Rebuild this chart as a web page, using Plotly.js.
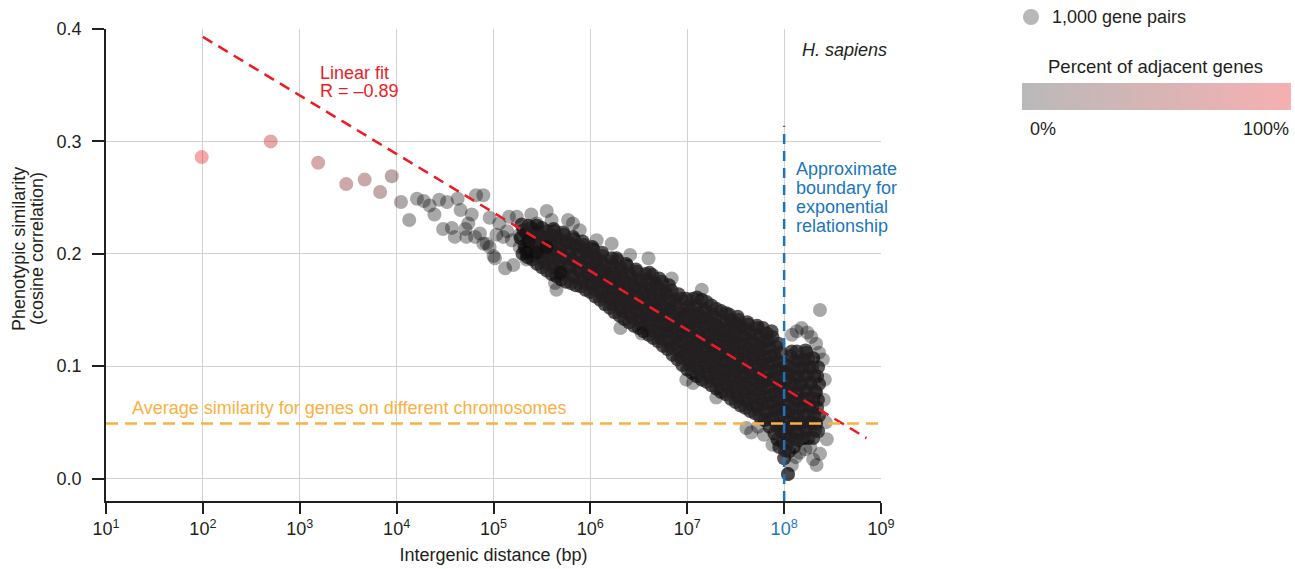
<!DOCTYPE html>
<html><head><meta charset="utf-8">
<script src="https://cdn.plot.ly/plotly-3.0.1.min.js"></script>
<style>html,body{margin:0;padding:0;background:#fff}#chart{width:1295px;height:569px}</style>
</head><body><div id="chart"></div>
<script>
// ---------- DATA (log10 of intergenic distance in bp, similarity) ----------
// bins with a high share of adjacent genes (coloured by percent adjacent)
const adjLogDist = [1.988, 2.70, 3.19, 3.48, 3.67, 3.83, 3.95, 4.045];
const adjSim     = [0.286, 0.300, 0.281, 0.262, 0.266, 0.255, 0.269, 0.246];
const adjPercent = [100, 85, 60, 50, 45, 35, 25, 10];

// sparse / outlying bins (1,000 gene pairs each)
const sparseLogDist = [
  4.13,4.21,4.28,4.34,4.39,4.44,4.52,4.48,4.57,4.60,4.63,4.66,4.71,4.74,4.72,4.775,4.82,4.895,4.81,4.86,
  4.895,4.93,4.96,4.96,5.00,5.015,5.03,5.06,5.10,5.12,5.14,5.16,5.19,5.205,5.24,5.27,5.27,5.34,5.34,5.36,
  5.39,5.445,5.445,5.55,5.55,5.60,5.635,5.65,5.69,5.77,5.82,5.89,6.065,6.22,6.31,6.41,6.53,6.60,6.84,6.99,
  7.06,7.15,7.30,7.61,7.66,7.73,7.79,7.88,8.04,8.04,8.04,8.08,8.13,8.18,8.24,8.28,8.33,8.37,8.36,8.40,
  8.42,8.41,8.43,8.44,8.30,8.335,8.37,8.16,8.22,8.27,8.12,8.08
];
const sparseSim = [
  0.230,0.249,0.247,0.243,0.235,0.248,0.246,0.222,0.223,0.215,0.249,0.239,0.222,0.227,0.215,0.235,0.252,0.252,0.215,0.218,
  0.209,0.209,0.232,0.206,0.198,0.196,0.217,0.227,0.215,0.187,0.220,0.233,0.212,0.190,0.233,0.206,0.217,0.195,0.201,0.211,
  0.235,0.227,0.201,0.238,0.206,0.230,0.174,0.168,0.183,0.230,0.227,0.221,0.212,0.209,0.134,0.199,0.129,0.196,0.178,0.088,
  0.085,0.168,0.072,0.045,0.041,0.046,0.039,0.030,0.004,0.004,0.004,0.128,0.131,0.134,0.130,0.126,0.120,0.150,0.112,0.106,
  0.088,0.070,0.050,0.035,0.017,0.012,0.022,0.023,0.026,0.028,0.019,0.012
];

// dense core of bins (one line per slice of distance)
const coreLogDist = [
  5.30,5.32,5.28,5.31,5.29,
  5.35,5.33,5.37,5.34,5.36,
  5.40,5.42,5.38,5.41,5.39,
  5.45,5.43,5.47,5.44,5.46,5.45,
  5.50,5.52,5.48,5.51,5.49,5.50,
  5.55,5.53,5.57,5.54,5.56,5.55,
  5.60,5.62,5.58,5.61,5.59,5.60,5.62,
  5.65,5.63,5.67,5.64,5.66,5.65,5.63,
  5.70,5.72,5.68,5.71,5.69,5.70,5.72,
  5.75,5.73,5.77,5.74,5.76,5.75,5.73,
  5.80,5.82,5.78,5.81,5.79,5.80,5.82,
  5.85,5.83,5.87,5.84,5.86,5.85,5.83,
  5.90,5.92,5.88,5.91,5.89,5.90,5.92,
  5.95,5.93,5.97,5.94,5.96,5.95,5.93,
  6.00,6.02,5.98,6.01,5.99,6.00,6.02,
  6.05,6.03,6.07,6.04,6.06,6.05,6.03,
  6.10,6.12,6.08,6.11,6.09,6.10,6.12,
  6.15,6.13,6.17,6.14,6.16,6.15,6.13,
  6.20,6.22,6.18,6.21,6.19,6.20,6.22,
  6.25,6.23,6.27,6.24,6.26,6.25,6.23,6.27,
  6.30,6.32,6.28,6.31,6.29,6.30,6.32,6.28,
  6.35,6.33,6.37,6.34,6.36,6.35,6.33,6.37,
  6.40,6.42,6.38,6.41,6.39,6.40,6.42,6.38,
  6.45,6.43,6.47,6.44,6.46,6.45,6.43,6.47,
  6.50,6.52,6.48,6.51,6.49,6.50,6.52,6.48,
  6.55,6.53,6.57,6.54,6.56,6.55,6.53,6.57,
  6.60,6.62,6.58,6.61,6.59,6.60,6.62,6.58,6.61,
  6.65,6.63,6.67,6.64,6.66,6.65,6.63,6.67,6.64,
  6.70,6.72,6.68,6.71,6.69,6.70,6.72,6.68,6.71,
  6.75,6.73,6.77,6.74,6.76,6.75,6.73,6.77,6.74,
  6.80,6.82,6.78,6.81,6.79,6.80,6.82,6.78,6.81,
  6.85,6.83,6.87,6.84,6.86,6.85,6.83,6.87,6.84,
  6.90,6.92,6.88,6.91,6.89,6.90,6.92,6.88,6.91,
  6.95,6.93,6.97,6.94,6.96,6.95,6.93,6.97,6.94,
  7.00,7.02,6.98,7.01,6.99,7.00,7.02,6.98,7.01,6.99,
  7.05,7.03,7.07,7.04,7.06,7.05,7.03,7.07,7.04,7.06,
  7.10,7.12,7.08,7.11,7.09,7.10,7.12,7.08,7.11,7.09,7.10,
  7.15,7.13,7.17,7.14,7.16,7.15,7.13,7.17,7.14,7.16,7.15,
  7.20,7.22,7.18,7.21,7.19,7.20,7.22,7.18,7.21,7.19,7.20,
  7.25,7.23,7.27,7.24,7.26,7.25,7.23,7.27,7.24,7.26,7.25,
  7.30,7.32,7.28,7.31,7.29,7.30,7.32,7.28,7.31,7.29,7.30,
  7.35,7.33,7.37,7.34,7.36,7.35,7.33,7.37,7.34,7.36,7.35,
  7.40,7.42,7.38,7.41,7.39,7.40,7.42,7.38,7.41,7.39,7.40,
  7.45,7.43,7.47,7.44,7.46,7.45,7.43,7.47,7.44,7.46,7.45,7.43,
  7.50,7.52,7.48,7.51,7.49,7.50,7.52,7.48,7.51,7.49,7.50,7.52,
  7.55,7.53,7.57,7.54,7.56,7.55,7.53,7.57,7.54,7.56,7.55,7.53,
  7.60,7.62,7.58,7.61,7.59,7.60,7.62,7.58,7.61,7.59,7.60,7.62,
  7.65,7.63,7.67,7.64,7.66,7.65,7.63,7.67,7.64,7.66,7.65,7.63,
  7.70,7.72,7.68,7.71,7.69,7.70,7.72,7.68,7.71,7.69,7.70,7.72,
  7.75,7.73,7.77,7.74,7.76,7.75,7.73,7.77,7.74,7.76,7.75,7.73,
  7.80,7.82,7.78,7.81,7.79,7.80,7.82,7.78,7.81,7.79,7.80,7.82,7.78,
  7.85,7.83,7.87,7.84,7.86,7.85,7.83,7.87,7.84,7.86,7.85,7.83,7.87,
  7.90,7.92,7.88,7.91,7.89,7.90,7.92,7.88,7.91,7.89,7.90,7.92,7.88,
  7.95,7.93,7.97,7.94,7.96,7.95,7.93,7.97,7.94,7.96,7.95,7.93,7.97,7.94,
  8.00,8.01,7.99,8.02,7.98,8.00,8.01,7.99,8.02,7.98,8.00,8.01,7.99,
  8.05,8.03,8.07,8.04,8.06,8.05,8.03,8.07,8.04,8.06,8.05,8.03,8.07,
  8.10,8.12,8.08,8.11,8.09,8.10,8.12,8.08,8.11,8.09,8.10,8.12,8.08,
  8.15,8.13,8.17,8.14,8.16,8.15,8.13,8.17,8.14,8.16,8.15,8.13,
  8.20,8.22,8.18,8.21,8.19,8.20,8.22,8.18,8.21,8.19,8.20,8.22,
  8.25,8.23,8.27,8.24,8.26,8.25,8.23,8.27,8.24,8.26,8.25,8.23,
  8.30,8.32,8.28,8.31,8.29,8.30,8.32,8.28,8.31,8.29,8.30,
  8.35,8.33,8.36,8.34,8.35,8.33,8.36,8.34,8.35
];
const coreSim = [
  0.200,0.207,0.214,0.221,0.226,
  0.197,0.204,0.211,0.218,0.225,
  0.195,0.202,0.209,0.216,0.223,
  0.191,0.198,0.205,0.212,0.219,0.225,
  0.188,0.195,0.202,0.209,0.216,0.223,
  0.185,0.192,0.199,0.206,0.213,0.220,
  0.182,0.189,0.196,0.203,0.210,0.217,0.222,
  0.180,0.187,0.194,0.201,0.208,0.215,0.220,
  0.177,0.184,0.191,0.198,0.205,0.212,0.219,
  0.175,0.182,0.189,0.196,0.203,0.210,0.217,
  0.174,0.181,0.188,0.195,0.202,0.209,0.215,
  0.172,0.179,0.186,0.193,0.200,0.207,0.213,
  0.171,0.178,0.185,0.192,0.199,0.206,0.211,
  0.168,0.175,0.182,0.189,0.196,0.203,0.208,
  0.166,0.173,0.180,0.187,0.194,0.201,0.206,
  0.162,0.169,0.176,0.183,0.190,0.197,0.204,
  0.159,0.166,0.173,0.180,0.187,0.194,0.201,
  0.155,0.162,0.169,0.176,0.183,0.190,0.198,
  0.152,0.159,0.166,0.173,0.180,0.187,0.196,
  0.148,0.155,0.162,0.169,0.176,0.183,0.190,0.196,
  0.145,0.152,0.159,0.166,0.173,0.180,0.187,0.194,
  0.142,0.149,0.156,0.163,0.170,0.177,0.184,0.191,
  0.139,0.146,0.153,0.160,0.167,0.174,0.181,0.189,
  0.136,0.143,0.150,0.157,0.164,0.171,0.178,0.186,
  0.134,0.141,0.148,0.155,0.162,0.169,0.176,0.184,
  0.131,0.138,0.145,0.152,0.159,0.166,0.173,0.182,
  0.128,0.135,0.142,0.149,0.156,0.163,0.170,0.177,0.183,
  0.125,0.132,0.139,0.146,0.153,0.160,0.167,0.174,0.181,
  0.122,0.129,0.136,0.143,0.150,0.157,0.164,0.171,0.178,
  0.118,0.125,0.132,0.139,0.146,0.153,0.160,0.167,0.175,
  0.115,0.122,0.129,0.136,0.143,0.150,0.157,0.164,0.172,
  0.110,0.117,0.124,0.131,0.138,0.145,0.152,0.159,0.167,
  0.106,0.113,0.120,0.127,0.134,0.141,0.148,0.155,0.164,
  0.101,0.108,0.115,0.122,0.129,0.136,0.143,0.150,0.160,
  0.097,0.104,0.111,0.118,0.125,0.132,0.139,0.146,0.153,0.160,
  0.094,0.101,0.108,0.115,0.122,0.129,0.136,0.143,0.150,0.160,
  0.091,0.098,0.105,0.112,0.119,0.126,0.133,0.140,0.147,0.154,0.161,
  0.088,0.095,0.102,0.109,0.116,0.123,0.130,0.137,0.144,0.151,0.159,
  0.086,0.093,0.100,0.107,0.114,0.121,0.128,0.135,0.142,0.149,0.157,
  0.083,0.090,0.097,0.104,0.111,0.118,0.125,0.132,0.139,0.146,0.154,
  0.080,0.087,0.094,0.101,0.108,0.115,0.122,0.129,0.136,0.143,0.151,
  0.077,0.084,0.091,0.098,0.105,0.112,0.119,0.126,0.133,0.140,0.149,
  0.075,0.082,0.089,0.096,0.103,0.110,0.117,0.124,0.131,0.138,0.147,
  0.071,0.078,0.085,0.092,0.099,0.106,0.113,0.120,0.127,0.134,0.141,0.146,
  0.068,0.075,0.082,0.089,0.096,0.103,0.110,0.117,0.124,0.131,0.138,0.144,
  0.065,0.072,0.079,0.086,0.093,0.100,0.107,0.114,0.121,0.128,0.135,0.141,
  0.063,0.070,0.077,0.084,0.091,0.098,0.105,0.112,0.119,0.126,0.133,0.139,
  0.060,0.067,0.074,0.081,0.088,0.095,0.102,0.109,0.116,0.123,0.130,0.137,
  0.058,0.065,0.072,0.079,0.086,0.093,0.100,0.107,0.114,0.121,0.128,0.136,
  0.055,0.062,0.069,0.076,0.083,0.090,0.097,0.104,0.111,0.118,0.125,0.134,
  0.052,0.059,0.066,0.073,0.080,0.087,0.094,0.101,0.108,0.115,0.122,0.129,0.134,
  0.046,0.053,0.060,0.067,0.074,0.081,0.088,0.095,0.102,0.109,0.116,0.123,0.131,
  0.040,0.047,0.054,0.061,0.068,0.075,0.082,0.089,0.096,0.103,0.110,0.117,0.126,
  0.028,0.035,0.042,0.049,0.056,0.063,0.070,0.077,0.084,0.091,0.098,0.105,0.112,0.120,
  0.018,0.025,0.032,0.039,0.046,0.053,0.060,0.067,0.074,0.081,0.088,0.095,0.103,
  0.024,0.031,0.038,0.045,0.052,0.059,0.066,0.073,0.080,0.087,0.094,0.101,0.109,
  0.028,0.035,0.042,0.049,0.056,0.063,0.070,0.077,0.084,0.091,0.098,0.105,0.113,
  0.034,0.041,0.048,0.055,0.062,0.069,0.076,0.083,0.090,0.097,0.104,0.113,
  0.036,0.043,0.050,0.057,0.064,0.071,0.078,0.085,0.092,0.099,0.106,0.114,
  0.036,0.043,0.050,0.057,0.064,0.071,0.078,0.085,0.092,0.099,0.106,0.112,
  0.036,0.043,0.050,0.057,0.064,0.071,0.078,0.085,0.092,0.099,0.107,
  0.042,0.049,0.056,0.063,0.070,0.077,0.084,0.091,0.099
];

// reference lines
const fitDist = [1e2, 7.08e8];          // linear fit, R = -0.89
const fitSim  = [0.393, 0.036];
const avgDiffChromSim = 0.049;          // average similarity, different chromosomes
const boundaryDist = 1e8;               // approximate boundary for exponential relationship
const boundaryTop = 0.314;

// axis ticks
const xTickExp = [1, 2, 3, 4, 5, 6, 7, 8, 9];
const yTickVals = [0, 0.1, 0.2, 0.3, 0.4];
const yTickText = ['0.0', '0.1', '0.2', '0.3', '0.4'];

// ---------- STYLE ----------
const INK = '#231f20', RED = '#ed1c24', ORANGE = '#fbb040', BLUE = '#1c75bc';
const FONT = 'Liberation Sans, Arial, Helvetica, sans-serif';
const toBp = v => Math.pow(10, v);

if (coreLogDist.length !== coreSim.length) console.error('core length mismatch', coreLogDist.length, coreSim.length);
if (sparseLogDist.length !== sparseSim.length) console.error('sparse length mismatch', sparseLogDist.length, sparseSim.length);

const traces = [
  { type: 'scatter', mode: 'markers', name: 'gene pairs (dense)', x: coreLogDist.map(toBp), y: coreSim,
    marker: { size: 14, color: INK, opacity: 0.75, line: { width: 0 } }, hoverinfo: 'x+y' },
  { type: 'scatter', mode: 'markers', name: 'gene pairs', x: sparseLogDist.map(toBp), y: sparseSim,
    marker: { size: 14, color: '#000000', opacity: 0.34, line: { width: 0 } }, hoverinfo: 'x+y' },
  { type: 'scatter', mode: 'markers', name: 'adjacent-rich', x: adjLogDist.map(toBp), y: adjSim,
    marker: { size: 14, color: adjPercent, cmin: 0, cmax: 100, opacity: 0.34,
      colorscale: [[0, '#000000'], [1, '#e00000']], showscale: false, line: { width: 0 } } },
  { type: 'scatter', mode: 'markers', x: [null], y: [null], hoverinfo: 'skip', showlegend: false,
    marker: { color: [0], cmin: 0, cmax: 100, colorscale: [[0, '#b9b9b9'], [1, '#f6b0b1']], showscale: true,
      colorbar: { orientation: 'h', xref: 'paper', yref: 'paper', x: 1.1819, xanchor: 'left', y: 0.8856, yanchor: 'top',
        lenmode: 'pixels', len: 269, thicknessmode: 'pixels', thickness: 27, xpad: 0, ypad: 0,
        outlinewidth: 0, ticks: '', showticklabels: false } } },
  { type: 'scatter', mode: 'lines', x: fitDist, y: fitSim, hoverinfo: 'skip',
    line: { color: RED, width: 2.5, dash: '11px,7px' } },
  { type: 'scatter', mode: 'lines', x: [toBp(1), toBp(9)], y: [avgDiffChromSim, avgDiffChromSim], hoverinfo: 'skip',
    line: { color: ORANGE, width: 2.5, dash: '12px,7px' } },
  { type: 'scatter', mode: 'lines', x: [boundaryDist, boundaryDist], y: [-0.02, boundaryTop], hoverinfo: 'skip',
    line: { color: BLUE, width: 2.5, dash: '10px,7px' } }
];

const ann = (o) => Object.assign({ showarrow: false, xref: 'x', yref: 'y', xanchor: 'left', yanchor: 'middle', font: { family: FONT, size: 18, color: INK } }, o);

const layout = {
  width: 1295, height: 569,
  margin: { l: 106, r: 414, t: 29, b: 68, autoexpand: false },
  paper_bgcolor: '#ffffff', plot_bgcolor: '#ffffff',
  font: { family: FONT, size: 18, color: INK },
  showlegend: false,
  xaxis: {
    type: 'log', range: [1, 9], tickmode: 'array',
    tickvals: xTickExp.map(toBp),
    ticktext: xTickExp.map(e => e === 8 ? `<span style="color:${BLUE}">10<sup>${e}</sup></span>` : `10<sup>${e}</sup>`),
    ticks: 'outside', ticklen: 11, tickwidth: 1.5, tickcolor: INK,
    showline: true, linecolor: INK, linewidth: 1.5,
    showgrid: true, gridcolor: '#d2d2d2', gridwidth: 1, zeroline: false,
    tickfont: { family: FONT, size: 18, color: INK },
    title: { text: 'Intergenic distance (bp)', font: { family: FONT, size: 18, color: INK }, standoff: 10 }
  },
  yaxis: {
    range: [-0.02, 0.4], tickmode: 'array', tickvals: yTickVals, ticktext: yTickText,
    ticks: 'outside', ticklen: 12, tickwidth: 1.5, tickcolor: INK, ticklabelstandoff: 7,
    showline: true, linecolor: INK, linewidth: 1.5,
    showgrid: true, gridcolor: '#d2d2d2', gridwidth: 1, zeroline: false,
    tickfont: { family: FONT, size: 18, color: INK }
  },
  shapes: [
    { type: 'circle', xref: 'paper', yref: 'paper', x0: 1.1832, x1: 1.2039, y0: 1.0085, y1: 1.0424,
      fillcolor: '#b8b8b8', line: { width: 0 } }
  ],
  annotations: [
    ann({ x: 3.19, y: 0.361, text: 'Linear fit', font: { family: FONT, size: 18, color: RED } }),
    ann({ x: 3.19, y: 0.345, text: 'R = \u20130.89', font: { family: FONT, size: 18, color: RED } }),
    ann({ x: 8.628, y: 0.381, xanchor: 'center', text: '<i>H. sapiens</i>' }),
    ann({ x: 8.102, y: 0.2756, text: 'Approximate', font: { family: FONT, size: 18, color: BLUE } }),
    ann({ x: 8.102, y: 0.2587, text: 'boundary for', font: { family: FONT, size: 18, color: BLUE } }),
    ann({ x: 8.102, y: 0.2418, text: 'exponential', font: { family: FONT, size: 18, color: BLUE } }),
    ann({ x: 8.102, y: 0.2249, text: 'relationship', font: { family: FONT, size: 18, color: BLUE } }),
    ann({ x: 1.25, y: 0.0631, text: 'Average similarity for genes on different chromosomes', font: { family: FONT, size: 18, color: ORANGE } }),
    ann({ xref: 'paper', yref: 'paper', x: -0.1123, y: 0.534, xanchor: 'center', textangle: -90, text: 'Phenotypic similarity' }),
    ann({ xref: 'paper', yref: 'paper', x: -0.0890, y: 0.534, xanchor: 'center', textangle: -90, text: '(cosine correlation)' }),
    ann({ xref: 'paper', yref: 'paper', x: 1.2181, y: 1.0254, text: '1,000 gene pairs' }),
    ann({ xref: 'paper', yref: 'paper', x: 1.3548, y: 0.9216, xanchor: 'center', text: 'Percent of adjacent genes', font: { family: FONT, size: 18.5, color: INK } }),
    ann({ xref: 'paper', yref: 'paper', x: 1.1897, y: 0.7881, text: '0%' }),
    ann({ xref: 'paper', yref: 'paper', x: 1.5290, y: 0.7881, xanchor: 'right', text: '100%' })
  ]
};

Plotly.newPlot('chart', traces, layout, { displayModeBar: false });
</script>
</body></html>
